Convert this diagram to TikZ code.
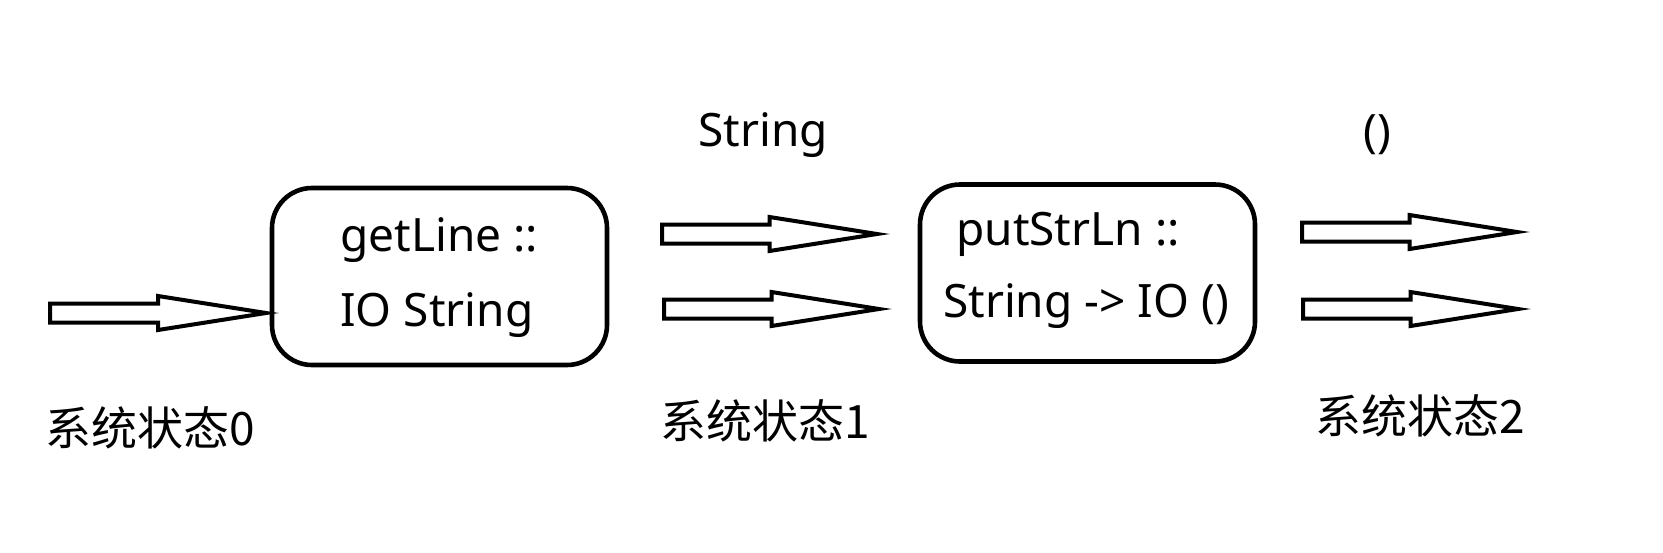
\documentclass[tikz,border=0pt]{standalone}
\usepackage{fontspec}
\setmainfont{Noto Sans}
\newfontfamily\cjk{Noto Sans CJK SC}
\usetikzlibrary{calc}
\tikzset{
  box/.style={draw, line width=2.3pt, rounded corners=20pt, minimum width=167.5pt, minimum height=88.5pt, inner sep=0pt},
  txt/.style={inner sep=0pt, font=\fontsize{23}{27}\selectfont},
  cjktxt/.style={inner sep=0pt, font=\cjk\fontsize{23}{27}\selectfont},
  blk/.style={draw, line width=2pt, fill=white, line join=miter}
}
\newcommand\blockarrow[2]{%
  \draw[blk] ($(#1)+(0,-9.5)$) -- ($(#1)!0.5!(#2)+(0,-9.5)$) -- ($(#1)!0.5!(#2)+(0,-17)$)
    -- (#2) -- ($(#1)!0.5!(#2)+(0,17)$) -- ($(#1)!0.5!(#2)+(0,9.5)$) -- ($(#1)+(0,9.5)$) -- cycle;}
\begin{document}
\begin{tikzpicture}[x=0.5pt, y=-0.5pt]
\useasboundingbox (0,0) rectangle (1663,552);
% boxes
\node[box] (b1) at (439.5,276.5) {};
\node[box] (b2) at (1087.5,273) {};
\node[txt, anchor=west] (t1a) at (340,240) {getLine ::};
\node[txt, anchor=west] (t1b) at (340,315) {IO String};
\node[txt] (t2a) at (1068,234) {putStrLn ::};
\node[txt] (t2b) at (1086,306) {String -> IO ()};
% labels
\node[txt] (lstr) at (763,135) {String};
\node[txt] (lunit) at (1377,135) {()};
\node[cjktxt] (s0) at (150,428) {系统状态0};
\node[cjktxt] (s1) at (765,421) {系统状态1};
\node[cjktxt] (s2) at (1420,416) {系统状态2};
% arrow endpoints
\coordinate (a0s) at (50,313);
\coordinate (a0e) at (266,313);
\coordinate (a1s) at (662,234);
\coordinate (a1e) at (877,234);
\coordinate (a2s) at (664,309);
\coordinate (a2e) at (879,309);
\coordinate (a3s) at (1302,232);
\coordinate (a3e) at (1517,232);
\coordinate (a4s) at (1303,309);
\coordinate (a4e) at (1518,309);
\blockarrow{a0s}{a0e}
\blockarrow{a1s}{a1e}
\blockarrow{a2s}{a2e}
\blockarrow{a3s}{a3e}
\blockarrow{a4s}{a4e}
\end{tikzpicture}
\end{document}
